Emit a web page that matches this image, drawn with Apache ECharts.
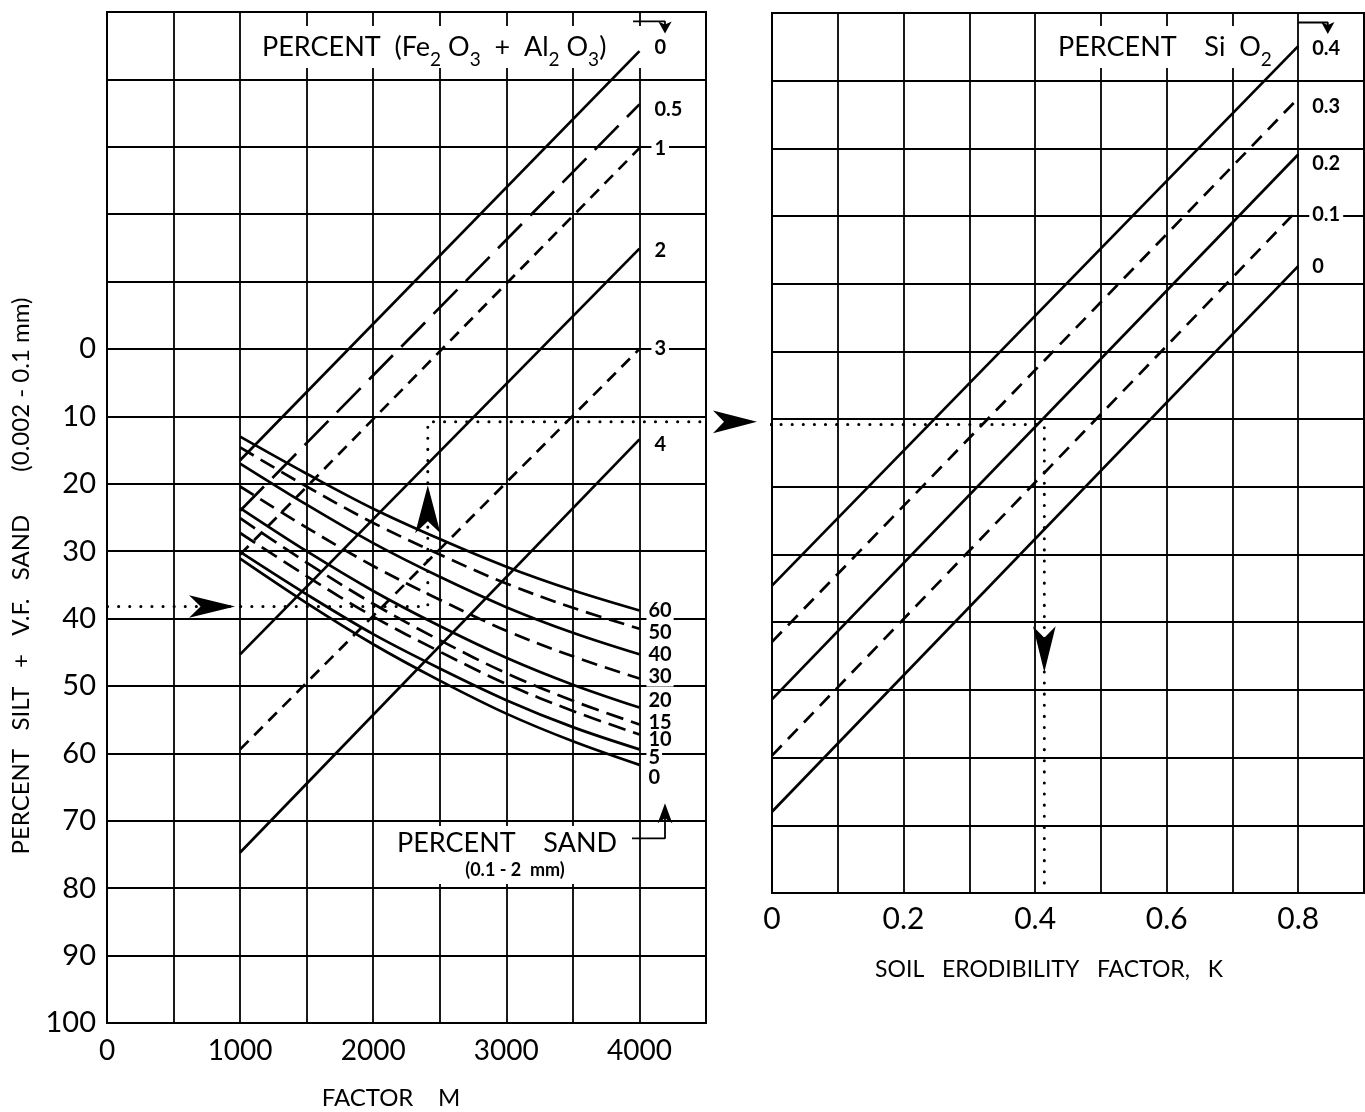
<!DOCTYPE html>
<html>
<head>
<meta charset="utf-8">
<title>Soil erodibility nomograph</title>
<script src="https://cdn.jsdelivr.net/npm/echarts@6/dist/echarts.min.js"></script>
<style>
  html, body { margin: 0; padding: 0; background: #fff; }
  #chart { width: 1365px; height: 1112px; }
</style>
</head>
<body>
<div id="chart"></div>
<script>
// left panel: percent silt + v.f. sand (y) against factor M (x)
const mTicks = [0, 1000, 2000, 3000, 4000];
const feLevels = ['0', '0.5', '1', '2', '3', '4'];          // percent Fe2O3 + Al2O3
const feAtM1000 = [16.5, 24.0, 30.5, 45.3, 59.4, 74.7];
const feAtM4000 = [-44.2, -36.3, -29.8, -14.9, 0.0, 13.4];

// percent sand curves, read at M = 1000, 1500 ... 4000
const factorM = [1000, 1500, 2000, 2500, 3000, 3500, 4000];
const sandLevels = ['60', '50', '40', '30', '20', '15', '10', '5', '0'];
const sand60 = [13.0, 18.5, 23.7, 28.2, 32.3, 35.8, 38.8];
const sand50 = [14.6, 20.4, 25.8, 30.5, 34.8, 38.4, 41.5];
const sand40 = [17.0, 23.1, 28.8, 33.8, 38.3, 42.1, 45.3];
const sand30 = [20.4, 26.5, 32.2, 37.2, 41.8, 45.6, 48.9];
const sand20 = [23.6, 30.0, 35.9, 41.1, 45.8, 49.8, 53.2];
const sand15 = [25.1, 31.7, 37.8, 43.2, 48.1, 52.2, 55.7];
const sand10 = [27.3, 33.7, 39.7, 44.9, 49.7, 53.7, 57.2];
const sand5  = [30.1, 36.4, 42.3, 47.4, 52.1, 56.1, 59.4];
const sand0  = [31.1, 37.7, 43.8, 49.2, 54.1, 58.2, 61.7];
const sandCurves = [sand60, sand50, sand40, sand30, sand20, sand15, sand10, sand5, sand0];

// right panel: soil erodibility factor K
const kTicks = [0, 0.2, 0.4, 0.6, 0.8];
const sio2Levels = ['0.4', '0.3', '0.2', '0.1', '0'];     // percent SiO2
const sio2AtK0 = [34.6, 42.9, 51.4, 59.7, 68.0];
const sio2AtK08 = [-45.1, -37.4, -29.1, -21.0, -12.6];

// worked example drawn with dotted guide
const exSilt = 38.2;
const exM = 2410;
const exLevel = 10.8;
const exK = 0.414;

const FONT = 'Lato, "DejaVu Sans", sans-serif';
const INK = '#000';

// styles (kept apart from the values)
const feDash = ['solid', [34, 12], [12, 8], 'solid', [12, 8], 'solid'];
const feShift = [-4, 5, 0, 2, 0, 5];
const sandDash = ['solid', [16, 8], 'solid', [16, 8], 'solid', [18, 8], [18, 8], 'solid', 'solid'];
const sandShift = [0, 4, 0, -2, -7, -2, 5, 8, 13];
const sio2Dash = ['solid', [14, 9], 'solid', [14, 9], 'solid'];
const sio2Shift = [2, 8, 9, 5, 0];
const dots = { color: INK, width: 3, type: [0.1, 11], cap: 'round' };

function endLabel(text, extra) {
  return Object.assign({
    show: true, formatter: text, color: INK, fontFamily: FONT,
    fontSize: 20, fontWeight: 'bold', backgroundColor: '#fff',
    padding: [1, 3], distance: 12
  }, extra);
}

const series = [];

feLevels.forEach((lv, i) => {
  series.push({
    type: 'line', xAxisIndex: 0, yAxisIndex: 0, symbol: 'none', z: 3,
    data: [[1000, feAtM1000[i]], [4000, feAtM4000[i]]],
    lineStyle: { color: INK, width: 2.7, type: feDash[i] },
    endLabel: endLabel(lv, { offset: [0, feShift[i]] })
  });
});

sandLevels.forEach((lv, i) => {
  series.push({
    type: 'line', xAxisIndex: 0, yAxisIndex: 0, symbol: 'none', smooth: 0.35, z: 3,
    data: factorM.map((m, j) => [m, sandCurves[i][j]]),
    lineStyle: { color: INK, width: 2.7, type: sandDash[i] },
    endLabel: endLabel(lv, { fontSize: 20, padding: [0, 2], distance: 7, offset: [0, sandShift[i]] })
  });
});

sio2Levels.forEach((lv, i) => {
  series.push({
    type: 'line', xAxisIndex: 1, yAxisIndex: 1, symbol: 'none', z: 3,
    data: [[0, sio2AtK0[i]], [0.8, sio2AtK08[i]]],
    lineStyle: { color: INK, width: 2.7, type: sio2Dash[i] },
    endLabel: endLabel(lv, { distance: 11, offset: [0, sio2Shift[i]] })
  });
});

// dotted reading path
series.push({
  type: 'line', xAxisIndex: 0, yAxisIndex: 0, symbol: 'none', clip: false, z: 4,
  data: [[-580, exSilt], [exM, exSilt], [exM, exLevel], [4700, exLevel]],
  lineStyle: dots
});
series.push({
  type: 'line', xAxisIndex: 1, yAxisIndex: 1, symbol: 'none', clip: false, z: 4,
  data: [[-0.02, exLevel], [exK, exLevel], [exK, 80]],
  lineStyle: dots
});
// arrow heads: the point is the tip of the arrow
const arrowStyle = { color: INK, opacity: 1 };
series.push({
  type: 'scatter', xAxisIndex: 0, yAxisIndex: 0, symbol: 'arrow', clip: false, z: 5,
  itemStyle: arrowStyle,
  data: [
    { value: [962, exSilt], symbolRotate: -90, symbolSize: [17, 46] },
    { value: [exM, 20.2], symbolRotate: 0, symbolSize: [19, 48] },
    { value: [4883, exLevel], symbolRotate: -90, symbolSize: [17, 44] }
  ]
});
series.push({
  type: 'scatter', xAxisIndex: 1, yAxisIndex: 1, symbol: 'arrow', clip: false, z: 5,
  itemStyle: arrowStyle,
  data: [{ value: [exK, 47.4], symbolRotate: 180, symbolSize: [17, 46] }]
});

// little bent pointers next to the scale captions
const pointer = { color: INK, width: 1.8 };
series.push({
  type: 'line', xAxisIndex: 0, yAxisIndex: 0, symbol: 'none', clip: false, z: 4,
  data: [[3952, -48.6], [4192, -48.6], [4192, -47.6]], lineStyle: pointer
});
series.push({
  type: 'line', xAxisIndex: 0, yAxisIndex: 0, symbol: 'none', clip: false, z: 4,
  data: [[3944, 72.6], [4192, 72.6], [4192, 69.0]], lineStyle: pointer
});
series.push({
  type: 'line', xAxisIndex: 1, yAxisIndex: 1, symbol: 'none', clip: false, z: 4,
  data: [[0.800, -48.6], [0.845, -48.6], [0.845, -47.7]], lineStyle: pointer
});
series.push({
  type: 'scatter', xAxisIndex: 0, yAxisIndex: 0, symbol: 'arrow', clip: false, z: 5,
  itemStyle: arrowStyle,
  data: [
    { value: [4192, -46.8], symbolRotate: 180, symbolSize: [10, 12] },
    { value: [4192, 67.4], symbolRotate: 0, symbolSize: [11, 20] }
  ]
});
series.push({
  type: 'scatter', xAxisIndex: 1, yAxisIndex: 1, symbol: 'arrow', clip: false, z: 5,
  itemStyle: arrowStyle,
  data: [{ value: [0.845, -46.9], symbolRotate: 180, symbolSize: [10, 12] }]
});

const gridLine = { show: true, lineStyle: { color: INK, width: 1.8 } };
const frame = { show: true, lineStyle: { color: INK, width: 2 } };

const option = {
  animation: false,
  backgroundColor: '#fff',
  grid: [
    { left: 107, top: 12, width: 599, height: 1011, show: true, borderColor: INK, borderWidth: 2, outerBoundsMode: 'none' },
    { left: 772, top: 13, width: 592, height: 880, show: true, borderColor: INK, borderWidth: 2, outerBoundsMode: 'none' }
  ],
  xAxis: [
    {
      gridIndex: 0, type: 'value', min: 0, max: 4500, interval: 500,
      axisLine: frame, axisTick: { show: false }, splitLine: gridLine,
      axisLabel: {
        color: INK, fontFamily: FONT, fontSize: 28, margin: 14,
        formatter: v => mTicks.includes(v) ? String(v) : ''
      }
    },
    {
      gridIndex: 1, type: 'value', min: 0, max: 0.9, interval: 0.1,
      axisLine: frame, axisTick: { show: false }, splitLine: gridLine,
      axisLabel: {
        color: INK, fontFamily: FONT, fontSize: 30, margin: 11,
        formatter: v => { const t = kTicks.find(k => Math.abs(k - v) < 1e-6); return t === undefined ? '' : String(t); }
      }
    }
  ],
  yAxis: [
    {
      gridIndex: 0, type: 'value', inverse: true, min: -50, max: 100, interval: 10,
      axisLine: frame, axisTick: { show: false }, splitLine: gridLine,
      axisLabel: {
        color: INK, fontFamily: FONT, fontSize: 29, margin: 11,
        formatter: v => v >= 0 ? String(v) : ''
      }
    },
    {
      gridIndex: 1, type: 'value', inverse: true, min: -50, max: 80, interval: 10,
      axisLine: frame, axisTick: { show: false }, splitLine: gridLine,
      axisLabel: { show: false }
    }
  ],
  graphic: [
    { type: 'rect', z: 1, shape: { x: 252, y: 26, width: 400, height: 42 }, style: { fill: '#fff' } },
    { type: 'rect', z: 1, shape: { x: 1048, y: 26, width: 240, height: 42 }, style: { fill: '#fff' } },
    { type: 'rect', z: 1, shape: { x: 392, y: 826, width: 236, height: 58 }, style: { fill: '#fff' } },
    {
      type: 'text', z: 1, x: 262, y: 47,
      style: {
        text: 'PERCENT  (Fe{s|2} O{s|3}  +  Al{s|2} O{s|3})', fill: INK,
        fontFamily: FONT, fontSize: 27, verticalAlign: 'middle',
        rich: { s: { fontSize: 19, fontFamily: FONT, padding: [25, 0, 0, 0] } }
      }
    },
    {
      type: 'text', z: 1, x: 1058, y: 47,
      style: {
        text: 'PERCENT    Si  O{s|2}', fill: INK,
        fontFamily: FONT, fontSize: 27, verticalAlign: 'middle',
        rich: { s: { fontSize: 19, fontFamily: FONT, padding: [25, 0, 0, 0] } }
      }
    },
    {
      type: 'text', z: 1, x: 397, y: 843,
      style: { text: 'PERCENT    SAND', fill: INK, fontFamily: FONT, fontSize: 27, verticalAlign: 'middle' }
    },
    {
      type: 'text', z: 1, x: 515, y: 870,
      style: { text: '(0.1 - 2  mm)', fill: INK, fontFamily: FONT, fontSize: 18, fontWeight: 'bold', align: 'center', verticalAlign: 'middle' }
    },
    {
      type: 'text', x: 21, y: 576, rotation: Math.PI / 2,
      style: {
        text: 'PERCENT   SILT   +   V.F.   SAND       (0.002 - 0.1 mm)', fill: INK,
        fontFamily: FONT, fontSize: 24, align: 'center', verticalAlign: 'middle'
      }
    },
    {
      type: 'text', x: 391, y: 1098,
      style: { text: 'FACTOR    M', fill: INK, fontFamily: FONT, fontSize: 24, align: 'center', verticalAlign: 'middle' }
    },
    {
      type: 'text', x: 1049, y: 970,
      style: { text: 'SOIL   ERODIBILITY   FACTOR,   K', fill: INK, fontFamily: FONT, fontSize: 23, align: 'center', verticalAlign: 'middle' }
    }
  ],
  series: series
};

const chart = echarts.init(document.getElementById('chart'));
chart.setOption(option);
</script>
</body>
</html>
